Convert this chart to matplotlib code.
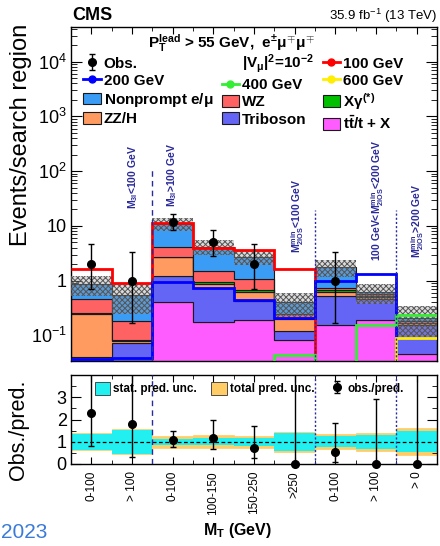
import numpy as np
import matplotlib
matplotlib.use("Agg")
import matplotlib.pyplot as plt
from matplotlib.lines import Line2D
from matplotlib.patches import Patch
from matplotlib.ticker import FixedLocator, FixedFormatter, NullFormatter
import matplotlib.transforms as mtransforms

plt.rcParams["font.family"] = ["Liberation Sans", "DejaVu Sans"]
plt.rcParams["mathtext.fontset"] = "custom"
plt.rcParams["mathtext.rm"] = "Liberation Sans:bold"
plt.rcParams["mathtext.it"] = "Liberation Sans:bold"
plt.rcParams["mathtext.bf"] = "Liberation Sans:bold"
plt.rcParams["hatch.linewidth"] = 0.7

# ---- data ----
bin_labels = ["0-100", "> 100", "0-100", "100-150", "150-250", ">250", "0-100", "> 100", "> 0"]

obs = np.array([2, 1, 12, 5, 2, 0, 1, 0, 0])
obs_lo = np.array([0.71, 0.17, 8.55, 2.84, 0.71, 0.0, 0.17, 0.0, 0.0])
obs_hi = np.array([4.64, 3.30, 16.3, 8.38, 4.64, 1.84, 3.30, 1.84, 1.84])

# stacked backgrounds, bottom -> top
ttx = [0.0, 0.0, 0.41, 0.175, 0.193, 0.082, 0.155, 0.188, 0.046]
triboson = [0.04, 0.074, 0.80, 0.555, 0.237, 0.038, 0.36, 0.27, 0.11]
zzh = [0.21, 0.005, 1.45, 0.13, 0.20, 0.075, 0.115, 0.05, 0.01]
xgamma = [0.005, 0.003, 0.04, 0.07, 0.04, 0.01, 0.03, 0.02, 0.005]
wz = [0.20, 0.10, 1.50, 0.57, 0.40, 0.045, 0.06, 0.03, 0.01]
nonprompt = [0.41, 0.37, 6.8, 2.7, 1.63, 0.15, 1.08, 0.07, 0.03]

# signal hypotheses
sig100 = [1.6, 0.9, 11.5, 4.0, 3.6, 1.6, 0, 0, 0]
sig200 = [0.037, 0.038, 0.95, 0.72, 0.44, 0.205, 0.97, 1.33, 0]
sig400 = [0, 0, 0, 0, 0, 0.043, 0, 0.155, 0.235]
sig600 = [0, 0, 0, 0, 0, 0, 0, 0, 0.089]

# relative prediction uncertainties
stat_unc = np.array([0.365, 0.53, 0.13, 0.16, 0.185, 0.41, 0.24, 0.31, 0.47])
total_unc = np.array([0.39, 0.555, 0.265, 0.30, 0.275, 0.455, 0.34, 0.41, 0.60])

region_texts = [
    (1.52, 0.551, r"M$_{3l}$<100 GeV"),
    (2.48, 0.557, r"M$_{3l}$>100 GeV"),
    (5.56, 0.434, r"M$^{min}_{2lOS}$<100 GeV"),
    (7.55, 0.482, r"100 GeV<M$^{min}_{2lOS}$<200 GeV"),
    (8.53, 0.419, r"M$^{min}_{2lOS}$>200 GeV"),
]

edges = np.arange(len(bin_labels) + 1)
centers = edges[:-1] + 0.5

bkg = [
    (ttx, "#ff5cff", r"t$\bar{\rm t}$/t + X"),
    (triboson, "#6464f5", "Triboson"),
    (zzh, "#ff9a60", "ZZ/H"),
    (xgamma, "#00c000", r"X$\gamma^{(*)}$"),
    (wz, "#ff6262", "WZ"),
    (nonprompt, "#3a9cf5", r"Nonprompt e/$\mu$"),
]
signals = [
    (sig100, "#ff0000", "100 GeV"),
    (sig200, "#0000ff", "200 GeV"),
    (sig400, "#33ee33", "400 GeV"),
    (sig600, "#ffee00", "600 GeV"),
]
region_color = "#2a2a9a"

fig = plt.figure(figsize=(4.40, 5.46), dpi=100)
ax = fig.add_axes([71 / 440, 1 - 361 / 546, 366 / 440, 334 / 546])
rax = fig.add_axes([71 / 440, 1 - 464 / 546, 366 / 440, 89 / 546], sharex=ax)

# ---- main panel ----
ax.set_yscale("log", nonpositive="clip")
ax.set_ylim(0.034, 4.3e4)
ax.set_xlim(0, len(bin_labels))

bottom = np.zeros(len(bin_labels))
handles = {}
for vals, col, lab in bkg:
    top = bottom + np.asarray(vals)
    ax.stairs(top, edges, baseline=bottom, fill=True, facecolor=col,
              edgecolor="#1a1a1a", linewidth=0.8, zorder=2)
    handles[lab] = Patch(facecolor=col, edgecolor="#1a1a1a", linewidth=0.8)
    bottom = top
pred = bottom

ax.stairs(pred * (1 + total_unc), edges, baseline=pred * (1 - total_unc), fill=True,
          facecolor=(0.6, 0.6, 0.6, 0.35), edgecolor="#555555", hatch="xxxxxx",
          linewidth=0, zorder=3)

for vals, col, lab in signals:
    ax.stairs(vals, edges, baseline=None, color=col, linewidth=2.0, zorder=4)
    handles[lab] = Line2D([], [], color=col, lw=2, marker="o", markersize=5)

m = obs > 0
eb = ax.errorbar(centers[m], obs[m], yerr=[obs[m] - obs_lo[m], obs_hi[m] - obs[m]],
                 fmt="o", color="black", markersize=5.5, elinewidth=1, capsize=2.5,
                 capthick=1, zorder=6)
handles["Obs."] = eb

# region separators and labels
trans = mtransforms.blended_transform_factory(ax.transData, ax.transAxes)
ax.plot([2, 2], [0, 0.578], transform=trans, color=region_color, lw=1,
        ls=(0, (4, 3)), zorder=5)
for xe in (6, 8):
    ax.plot([xe, xe], [0, 0.452], transform=trans, color=region_color, lw=1,
            ls=(0, (1.5, 1.5)), zorder=5)
for xc, yc, txt in region_texts:
    ax.text(xc, yc, txt, transform=trans, rotation=90, ha="center", va="center",
            color=region_color, fontsize=7.5, fontweight="bold", zorder=7)

ax.yaxis.set_major_locator(FixedLocator([0.1, 1, 10, 100, 1000, 10000]))
ax.yaxis.set_major_formatter(FixedFormatter(
    [r"10$^{\mathregular{-1}}$", "1", "10", r"10$^{\mathregular{2}}$",
     r"10$^{\mathregular{3}}$", r"10$^{\mathregular{4}}$"]))
ax.yaxis.set_minor_locator(FixedLocator(
    [k * 10.0 ** e for e in range(-2, 5) for k in range(2, 10)]))
ax.yaxis.set_minor_formatter(NullFormatter())
ax.tick_params(axis="y", which="major", labelsize=13, length=8, direction="in",
               right=True, pad=3)
ax.tick_params(axis="y", which="minor", length=4, direction="in", right=True)
ax.tick_params(axis="x", which="both", direction="in", top=True, labelbottom=False)
ax.xaxis.set_major_locator(FixedLocator(centers))
ax.xaxis.set_minor_locator(FixedLocator(edges))
ax.tick_params(axis="x", which="major", length=5)
ax.tick_params(axis="x", which="minor", length=3)

# legend
coup = r"|V$_{\mu}$|$^{2}$=10$^{-2}$"
handles[coup] = Line2D([], [], color="none")
order = ["Obs.", "200 GeV", r"Nonprompt e/$\mu$", "ZZ/H",
         coup, "400 GeV", "WZ", "Triboson",
         "100 GeV", "600 GeV", r"X$\gamma^{(*)}$", r"t$\bar{\rm t}$/t + X"]
leg = ax.legend([handles[k] for k in order], order, ncol=3, loc="upper left",
                bbox_to_anchor=(0.012, 0.948), frameon=False, borderpad=0,
                prop={"size": 11, "weight": "bold"}, handlelength=1.15,
                handleheight=0.8, handletextpad=0.2, columnspacing=0.55,
                labelspacing=0.2)
ax.text(0.44, 0.952, r"P$_{T}^{lead}$ > 55 GeV,  e$^{\pm}\mu^{\mp}\mu^{\mp}$",
        transform=ax.transAxes, ha="center", va="center", fontsize=11,
        fontweight="bold")

# ---- ratio panel ----
ratio = obs / pred
r_lo = (obs - obs_lo) / pred
r_hi = (obs_hi - obs) / pred
rax.stairs(1 + total_unc, edges, baseline=1 - total_unc, fill=True,
           facecolor="#ffcc66", edgecolor="#ffcc66", linewidth=0.5, zorder=1)
rax.stairs(1 + stat_unc, edges, baseline=1 - stat_unc, fill=True,
           facecolor="#22f0f0", linewidth=0, zorder=2)
rax.axhline(1, color="black", lw=0.9, ls=(0, (3, 2)), zorder=3)
rax.plot([2, 2], [0, 4], color=region_color, lw=1, ls=(0, (4, 3)), zorder=3)
for xe in (6, 8):
    rax.plot([xe, xe], [0, 4], color=region_color, lw=1, ls=(0, (1.5, 1.5)), zorder=3)
rax.errorbar(centers, ratio, yerr=[r_lo, r_hi], fmt="none", ecolor="black",
             elinewidth=1, capsize=2.5, capthick=1, zorder=5)
rax.plot(centers, ratio, "o", color="black", markersize=5.5, zorder=6, clip_on=False)
rax.set_ylim(0, 4)
rax.yaxis.set_major_locator(FixedLocator([0, 1, 2, 3]))
rax.yaxis.set_minor_locator(FixedLocator(np.arange(0, 4.01, 0.5)))
rax.tick_params(axis="y", which="major", labelsize=13, length=7, direction="in",
                right=True, pad=3)
rax.tick_params(axis="y", which="minor", length=3.5, direction="in", right=True)
rax.set_xticks(centers)
rax.set_xticklabels(bin_labels, rotation=90, fontsize=8.5)
rax.xaxis.set_minor_locator(FixedLocator(edges))
rax.tick_params(axis="x", which="major", length=5, direction="in", top=True, pad=5)
rax.tick_params(axis="x", which="minor", length=3, direction="in", top=True)

rax.legend(
    [Patch(facecolor="#22f0f0", edgecolor="#333333", linewidth=0.6),
     Patch(facecolor="#ffcc66", edgecolor="#333333", linewidth=0.6),
     eb],
    ["stat. pred. unc.", "total pred. unc.", "obs./pred."],
    ncol=3, loc="upper left", bbox_to_anchor=(0.045, 1.0), frameon=False,
    borderpad=0.1, prop={"size": 8.5, "weight": "bold"}, handlelength=1.3,
    handleheight=1.3, handletextpad=0.3, columnspacing=1.2)

for a in (ax, rax):
    for s in a.spines.values():
        s.set_linewidth(1.0)

# ---- labels ----
fig.text(72 / 440, 1 - 20 / 546, "CMS", fontsize=13, fontweight="bold",
         ha="left", va="baseline")
fig.text(437 / 440, 1 - 20 / 546, r"35.9 fb$^{\mathregular{-1}}$ (13 TeV)",
         fontsize=9.5, ha="right", va="baseline")
fig.text(21 / 440, 1 - 135 / 546, "Events/search region", rotation=90,
         fontsize=17, ha="center", va="center")
fig.text(19 / 440, 1 - 430 / 546, "Obs./pred.", rotation=90, fontsize=15.5,
         ha="center", va="center")
fig.text(238 / 440, 1 - 530 / 546, r"M$_{T}$ (GeV)", fontsize=11.5,
         fontweight="bold", ha="center", va="center")
fig.text(1 / 440, 1 - 538 / 546, "2023", fontsize=15, color="#3b7bd8",
         ha="left", va="baseline")

fig.savefig("out.png", dpi=100)
